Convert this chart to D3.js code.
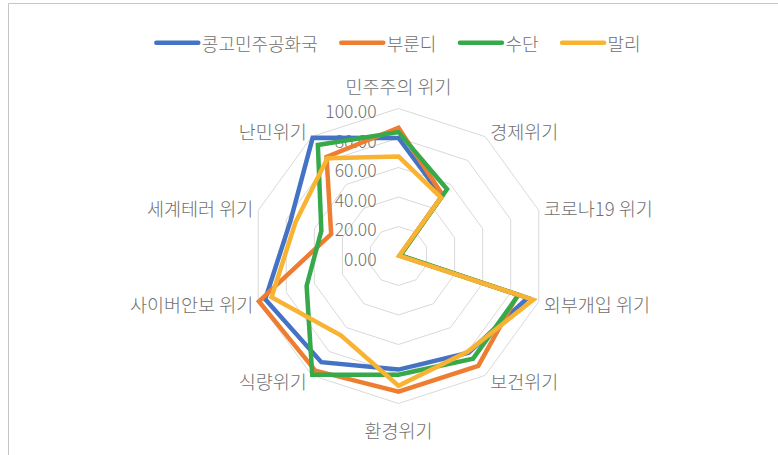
<!DOCTYPE html>
<html>
<head>
<meta charset="utf-8">
<script src="https://cdn.jsdelivr.net/npm/d3@7"></script>
<style>
  html, body { margin: 0; padding: 0; background: #fff; }
  svg { display: block; }
  text { font-family: "Noto Sans CJK KR", "Noto Sans", sans-serif; fill: #707070; font-weight: 300; }
</style>
</head>
<body>
<svg id="chart" width="778" height="455"></svg>
<script>
// Crisis categories, clockwise from the top
const categories = ["민주주의 위기", "경제위기", "코로나19 위기", "외부개입 위기", "보건위기",
                    "환경위기", "식량위기", "사이버안보 위기", "세계테러 위기", "난민위기"];

// Scores per country, in category order
const congoValues   = [80, 50, 1, 92, 81, 77, 89, 95, 77, 99];
const burundiValues = [87, 51, 1, 85, 92, 92, 96, 99.5, 48, 83];
const sudanValues   = [84, 56, 1.5, 85.5, 86, 80.5, 99.5, 65.5, 55, 93];
const maliValues    = [67.5, 49, 0.5, 96, 80, 88, 66.5, 90.5, 73.5, 82];

const seriesNames  = ["콩고민주공화국", "부룬디", "수단", "말리"];
const seriesColors = ["#4472C4", "#ED7D31", "#36A94B", "#F8B332"];

// Radial axis ticks
const tickValues = [0, 20, 40, 60, 80, 100];
const tickLabels = ["0.00", "20.00", "40.00", "60.00", "80.00", "100.00"];

const series = [congoValues, burundiValues, sudanValues, maliValues].map((values, i) => ({
  name: seriesNames[i], color: seriesColors[i], values
}));

const svg = d3.select("#chart");
const cx = 398.5, cy = 256, R = 147.5;

// Outer frame of the chart area
svg.append("path")
  .attr("d", "M8.5,460 V3.5 H790")
  .attr("fill", "none").attr("stroke", "#c6c6c6").attr("stroke-width", 1);

const r = d3.scaleLinear().domain([0, 100]).range([0, R]);
const angle = d3.scalePoint().domain(categories).range([0, 2 * Math.PI * (categories.length - 1) / categories.length]);

const pt = (cat, v) => {
  const a = angle(cat);
  return [cx + r(v) * Math.sin(a), cy - r(v) * Math.cos(a)];
};

// Concentric decagon gridlines
const grid = svg.append("g");
tickValues.filter(v => v > 0).forEach(v => {
  grid.append("path")
    .attr("d", d3.line().curve(d3.curveLinearClosed)(categories.map(c => pt(c, v))))
    .attr("fill", "none").attr("stroke", "#d9d9d9").attr("stroke-width", 1);
});

// Tick labels along the top axis
svg.append("g").selectAll("text").data(tickValues).join("text")
  .attr("x", cx - 22)
  .attr("y", v => cy - r(v) + 2)
  .attr("text-anchor", "end")
  .attr("dominant-baseline", "central")
  .attr("font-size", 17.5)
  .text((v, i) => tickLabels[i]);

// Category labels around the outside
svg.append("g").selectAll("text").data(categories).join("text")
  .attr("font-size", 18.5)
  .attr("dominant-baseline", "central")
  .each(function (c) {
    const a = angle(c);
    const s = Math.sin(a), co = Math.cos(a);
    const [vx, vy] = pt(c, 100);
    const el = d3.select(this);
    if (Math.abs(s) < 1e-6) {
      el.attr("text-anchor", "middle").attr("x", cx)
        .attr("y", co > 0 ? vy - 22.5 : vy + 26);
    } else {
      el.attr("text-anchor", s > 0 ? "start" : "end")
        .attr("x", vx + (s > 0 ? 5 : -5))
        .attr("y", vy - 7 * co);
    }
  })
  .text(c => c);

// Series outlines
const radarLine = d3.line().curve(d3.curveLinearClosed);
svg.append("g").selectAll("path").data(series).join("path")
  .attr("d", s => radarLine(categories.map((c, i) => pt(c, s.values[i]))))
  .attr("fill", "none")
  .attr("stroke", s => s.color)
  .attr("stroke-width", 4.5)
  .attr("stroke-linejoin", "miter");

// Legend, centred above the plot
const legend = svg.append("g");
const items = legend.selectAll("g").data(series).join("g");
items.append("line")
  .attr("x1", 0).attr("x2", 42).attr("y1", 0).attr("y2", 0)
  .attr("stroke", s => s.color).attr("stroke-width", 4.5).attr("stroke-linecap", "round");
items.append("text")
  .attr("x", 45.5).attr("y", 0)
  .attr("dominant-baseline", "central")
  .attr("font-size", 18)
  .text(s => s.name);

let x = 0;
const gap = 23.5;
items.each(function () {
  const w = 45.5 + d3.select(this).select("text").node().getComputedTextLength();
  d3.select(this).attr("transform", `translate(${x},0)`);
  x += w + gap;
});
const total = x - gap;
legend.attr("transform", `translate(${cx - total / 2},42.7)`);
</script>
</body>
</html>
